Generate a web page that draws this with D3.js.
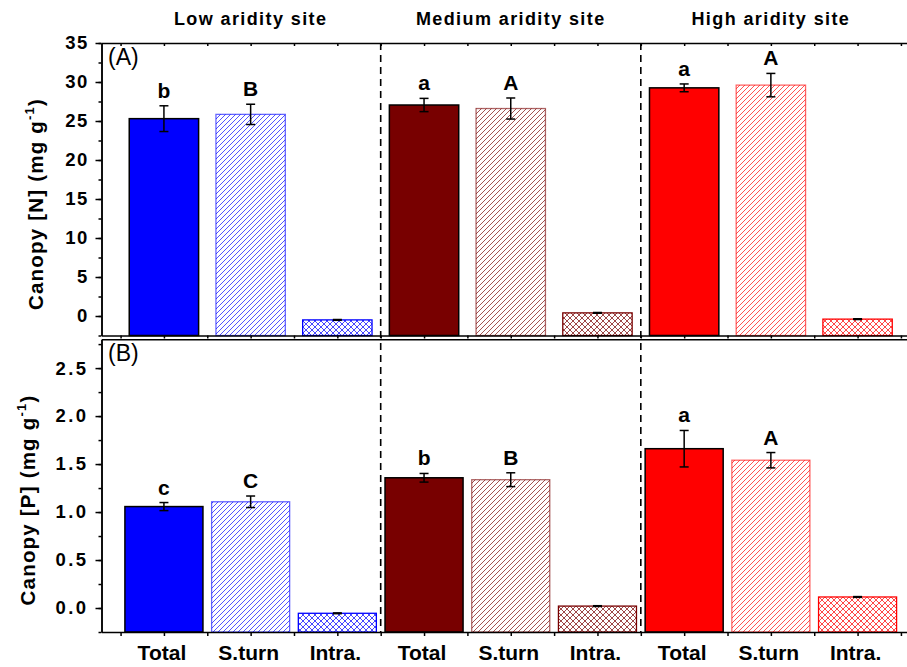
<!DOCTYPE html>
<html>
<head>
<meta charset="utf-8">
<script src="https://cdn.jsdelivr.net/npm/d3@7"></script>
<style>
  body { margin: 0; background: #fff; }
  svg text { font-family: Arial, "Liberation Sans", sans-serif; fill: #000; }
</style>
</head>
<body>
<div id="chart"></div>
<script>
// categories
const sites = ["Low aridity site", "Medium aridity site", "High aridity site"];
const components = ["Total", "S.turn", "Intra."];
const siteColors = ["#0000ff", "#780000", "#ff0000"];

// (A) canopy N, order: low Total/S.turn/Intra, medium ..., high ...
const nValues = [25.3, 25.85, -0.5, 27.05, 26.6, 0.4, 29.25, 29.6, -0.4];
const nErrors = [1.65, 1.3, 0.05, 0.85, 1.35, 0.05, 0.5, 1.5, 0.05];
const nLetters = ["b", "B", "", "a", "A", "", "a", "A", ""];

// (B) canopy P
const pValues = [1.057, 1.107, -0.055, 1.357, 1.337, 0.02, 1.66, 1.54, 0.115];
const pErrors = [0.042, 0.06, 0.004, 0.045, 0.072, 0.004, 0.19, 0.08, 0.004];
const pLetters = ["c", "C", "", "b", "B", "", "a", "A", ""];

const W = 907, H = 667;
const left = 101.5, right = 907;

const svg = d3.select("#chart").append("svg")
  .attr("width", W)
  .attr("height", H);

const x = d3.scaleLinear().domain([0.28, 9.57]).range([left, right]);

// hatch patterns, one pair per site colour
const defs = svg.append("defs");
siteColors.forEach(function(c, s) {
  const h = defs.append("pattern")
    .attr("id", "hatch-" + s)
    .attr("patternUnits", "userSpaceOnUse")
    .attr("width", 5).attr("height", 5);
  h.append("path")
    .attr("d", "M-1,1 l2,-2 M0,5 l5,-5 M4,6 l2,-2")
    .attr("stroke", c).attr("stroke-width", 0.9).attr("stroke-opacity", 0.75);

  const cr = defs.append("pattern")
    .attr("id", "cross-" + s)
    .attr("patternUnits", "userSpaceOnUse")
    .attr("width", 6).attr("height", 6);
  cr.append("path")
    .attr("d", "M0,0 L6,6 M6,0 L0,6")
    .attr("stroke", c).attr("stroke-width", 0.9).attr("stroke-opacity", 0.8);
});

class Panel {
  constructor(opts) {
    Object.assign(this, opts);
    this.y = d3.scaleLinear().domain(this.domain).range([this.bottom, this.top]);
    this.g = svg.append("g");
    this.draw();
  }

  draw() {
    this.plotBars();
    this.plotErrors();
    this.createAxes();
  }

  plotBars() {
    const y = this.y, bw = this.barWidth, base = this.domain[0];
    this.g.selectAll("rect.bar")
      .data(this.values)
      .enter().append("rect")
        .attr("class", "bar")
        .attr("x", (d, i) => x(i + 1 - bw / 2))
        .attr("width", x(1 + bw) - x(1))
        .attr("y", d => y(d))
        .attr("height", d => y(base) - y(d))
        .attr("fill", (d, i) => {
          const s = Math.floor(i / 3), c = i % 3;
          if (c == 0) return siteColors[s];
          if (c == 1) return "url(#hatch-" + s + ")";
          return "url(#cross-" + s + ")";
        })
        .attr("stroke", (d, i) => i % 3 == 0 ? "#000" : siteColors[Math.floor(i / 3)])
        .attr("stroke-opacity", (d, i) => i % 3 == 1 ? 0.6 : 1)
        .attr("stroke-width", (d, i) => i % 3 == 0 ? 1.5 : 1.3);
  }

  plotErrors() {
    const y = this.y, errs = this.errors;
    const eb = this.g.selectAll("g.err")
      .data(this.values)
      .enter().append("g")
        .attr("class", "err")
        .attr("stroke", "#000")
        .attr("stroke-width", 1.5);
    eb.append("line")
      .attr("x1", (d, i) => x(i + 1)).attr("x2", (d, i) => x(i + 1))
      .attr("y1", (d, i) => y(d - errs[i])).attr("y2", (d, i) => y(d + errs[i]));
    [-1, 1].forEach(function(sg) {
      eb.append("line")
        .attr("x1", (d, i) => x(i + 1) - 4.5).attr("x2", (d, i) => x(i + 1) + 4.5)
        .attr("y1", (d, i) => y(d + sg * errs[i])).attr("y2", (d, i) => y(d + sg * errs[i]));
    });

    this.g.selectAll("text.letter")
      .data(this.letters)
      .enter().append("text")
        .attr("class", "letter")
        .attr("x", (d, i) => x(i + 1))
        .attr("y", (d, i) => y(this.values[i] + errs[i]) - 8)
        .attr("text-anchor", "middle")
        .attr("font-size", 21)
        .attr("font-weight", "bold")
        .text(d => d);
  }

  createAxes() {
    const y = this.y;
    const [lo, hi] = this.domain;
    const majors = d3.range(0, hi + 1e-9, this.major);
    const minors = d3.range(lo, hi + 1e-9, this.minor);

    const yMinor = this.g.append("g")
      .attr("transform", "translate(" + left + ",0)")
      .call(d3.axisLeft(y).tickValues(minors).tickSize(3).tickSizeOuter(0).tickFormat(""));
    const yMajor = this.g.append("g")
      .attr("transform", "translate(" + left + ",0)")
      .call(d3.axisLeft(y).tickValues(majors).tickSize(6).tickSizeOuter(0)
        .tickPadding(7).tickFormat(this.format));
    yMajor.selectAll("text")
      .attr("font-size", 18.5)
      .attr("font-weight", "bold")
      .attr("letter-spacing", this.tickSpacing)
      .attr("font-family", "Arial, 'Liberation Sans', sans-serif")
      .attr("fill", "#000");

    const xt = d3.range(0.5, 9.51, 0.5);
    const topAx = this.g.append("g")
      .attr("transform", "translate(0," + this.top + ")")
      .call(d3.axisBottom(x).tickValues(xt).tickSize(this.topTick).tickSizeOuter(0).tickFormat(""));
    const botAx = this.g.append("g")
      .attr("transform", "translate(0," + this.bottom + ")")
      .call(d3.axisBottom(x).tickValues(xt).tickSize(this.bottomTick).tickSizeOuter(0).tickFormat(""));

    [yMinor, yMajor, topAx, botAx].forEach(function(a) {
      a.selectAll("path, line").attr("stroke", "#000").attr("stroke-width", 1.5);
    });

    this.g.append("text")
      .attr("x", 108)
      .attr("y", this.top + 22)
      .attr("font-size", 23)
      .text(this.tag);

    const lab = this.g.append("text")
      .attr("transform", "translate(" + this.labelX + "," + this.labelY + ") rotate(-90)")
      .attr("text-anchor", "middle")
      .attr("font-size", 20.5)
      .attr("font-weight", "bold")
      .attr("letter-spacing", 1.2);
    lab.append("tspan").text(this.label + " (mg g");
    lab.append("tspan").attr("font-size", 13).attr("dy", -9).text("-1");
    lab.append("tspan").attr("dy", 9).text(")");
  }
}

new Panel({
  top: 43, bottom: 335.5, domain: [-2.5, 35], major: 5, minor: 2.5,
  format: d3.format("d"), barWidth: 0.8, topTick: 3, bottomTick: 3,
  values: nValues, errors: nErrors, letters: nLetters, tickSpacing: 1.3,
  tag: "(A)", label: "Canopy [N]", labelX: 43, labelY: 204
});

new Panel({
  top: 339.3, bottom: 632, domain: [-0.25, 2.8], major: 0.5, minor: 0.25,
  format: d3.format(".1f"), barWidth: 0.9, topTick: 0, bottomTick: 4,
  values: pValues, errors: pErrors, letters: pLetters, tickSpacing: 2.4,
  tag: "(B)", label: "Canopy [P]", labelX: 35, labelY: 500
});

// dashed separators between sites
svg.selectAll("line.sep")
  .data([3.5, 6.5])
  .enter().append("line")
    .attr("class", "sep")
    .attr("x1", d => x(d)).attr("x2", d => x(d))
    .attr("y1", 43).attr("y2", 632)
    .attr("stroke", "#000")
    .attr("stroke-width", 1.6)
    .attr("stroke-dasharray", "7,5");

// site titles
svg.selectAll("text.site")
  .data(sites)
  .enter().append("text")
    .attr("class", "site")
    .attr("x", (d, i) => x(i * 3 + 2))
    .attr("y", 25)
    .attr("text-anchor", "middle")
    .attr("font-size", 18)
    .attr("font-weight", "bold")
    .attr("letter-spacing", 1.4)
    .text(d => d);

// component labels under the lower panel
svg.selectAll("text.comp")
  .data(d3.range(9))
  .enter().append("text")
    .attr("class", "comp")
    .attr("x", d => x(d + 1) - 2)
    .attr("y", 660)
    .attr("text-anchor", "middle")
    .attr("font-size", 21)
    .attr("font-weight", "bold")
    .text(d => components[d % 3]);
</script>
</body>
</html>
